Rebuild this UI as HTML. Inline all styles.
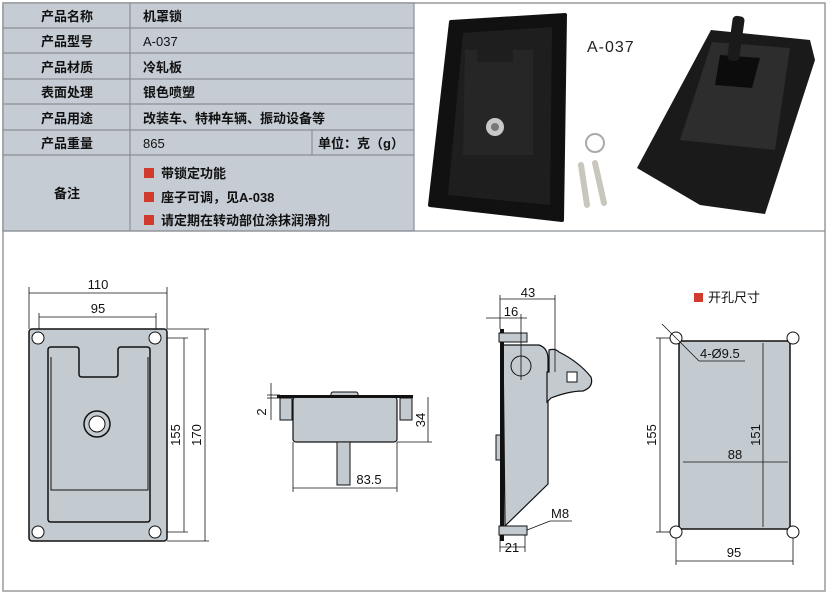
<!DOCTYPE html>
<html><head><meta charset="utf-8"><style>
body{margin:0;background:#fff;width:828px;height:593px;overflow:hidden;font-family:"Liberation Sans","Noto Sans CJK SC",sans-serif;}
svg{position:absolute;left:0;top:0}
</style></head><body>
<svg width="828" height="593" viewBox="0 0 828 593" font-family="Liberation Sans, Noto Sans CJK SC, sans-serif">
<rect x="3" y="3" width="822" height="588" fill="#fff" stroke="#9a9a9a" stroke-width="1.5"/>
<!-- table -->
<rect x="3" y="3" width="411" height="228" fill="#c5ccd4"/>
<g stroke="#8a8f95" stroke-width="1.2" fill="none">
<rect x="3" y="3" width="411" height="228"/>
<line x1="3" y1="28" x2="414" y2="28"/><line x1="3" y1="53" x2="414" y2="53"/>
<line x1="3" y1="79" x2="414" y2="79"/><line x1="3" y1="104" x2="414" y2="104"/>
<line x1="3" y1="130" x2="414" y2="130"/><line x1="3" y1="155" x2="414" y2="155"/>
<line x1="130" y1="3" x2="130" y2="231"/><line x1="312" y1="130" x2="312" y2="155"/>
<line x1="3" y1="231" x2="825" y2="231"/>
</g>
<g font-size="13" fill="#111">
<g font-weight="bold" text-anchor="middle">
<text x="67" y="21">产品名称</text><text x="67" y="46">产品型号</text><text x="67" y="72">产品材质</text>
<text x="67" y="97">表面处理</text><text x="67" y="123">产品用途</text><text x="67" y="148">产品重量</text>
<text x="67" y="198">备注</text></g>
<text x="143" y="21" font-weight="bold">机罩锁</text><text x="143" y="46">A-037</text>
<text x="143" y="72" font-weight="bold">冷轧板</text><text x="143" y="97" font-weight="bold">银色喷塑</text>
<text x="143" y="123" font-weight="bold">改装车、特种车辆、振动设备等</text><text x="143" y="148">865</text>
<text x="318" y="148" font-weight="bold">单位：克（g）</text>
<text x="161" y="178" font-weight="bold">带锁定功能</text>
<text x="161" y="202" font-weight="bold">座子可调，见A-038</text>
<text x="161" y="225" font-weight="bold">请定期在转动部位涂抹润滑剂</text>
</g>
<g fill="#d23a2e"><rect x="144" y="168" width="10" height="10"/><rect x="144" y="192" width="10" height="10"/><rect x="144" y="215" width="10" height="10"/></g>
<!-- photos -->
<line x1="414" y1="3" x2="414" y2="231" stroke="#8a8f95"/>
<path d="M451 22 L565 15 L562 220 L430 205 Z" fill="#111" stroke="#111" stroke-width="4" stroke-linejoin="round"/>
<path d="M463 33 L552 27 L550 205 L448 195 Z" fill="#1e1e1e"/>
<path d="M465 50 h12 v12 h36 v-12 h20 v105 h-70z" fill="#262626"/>
<circle cx="495" cy="127" r="9" fill="#c8c8c8"/><circle cx="495" cy="127" r="4" fill="#777"/>
<text x="587" y="52" font-size="16" fill="#222" letter-spacing="1">A-037</text>
<path d="M711 30 L810 40 L815 60 L765 214 L700 205 L637 168 Z" fill="#1a1a1a"/>
<path d="M712 42 L790 48 L775 150 L680 140 Z" fill="#2d2d2d"/>
<path d="M720 55 L760 58 L752 88 L715 85 Z" fill="#0c0c0c"/>
<rect x="730" y="16" width="12" height="45" rx="4" fill="#1a1a1a" transform="rotate(8 736 38)"/>
<circle cx="595" cy="143" r="9" fill="none" stroke="#aaa" stroke-width="2"/>
<path d="M581 165 l6 40 M595 163 l9 40" stroke="#c8c6bd" stroke-width="6" stroke-linecap="round"/>
<!-- drawing 1 -->
<g stroke="#111" fill="none" stroke-width="0.8">
<line x1="29" y1="293" x2="167" y2="293"/><line x1="29" y1="287" x2="29" y2="329"/><line x1="167" y1="287" x2="167" y2="329"/>
<line x1="39" y1="317" x2="156" y2="317"/><line x1="39" y1="313" x2="39" y2="338"/><line x1="156" y1="313" x2="156" y2="338"/>
<line x1="184" y1="338" x2="184" y2="532"/><line x1="160" y1="338" x2="188" y2="338"/><line x1="160" y1="532" x2="188" y2="532"/>
<line x1="205" y1="329" x2="205" y2="541"/><line x1="167" y1="329" x2="209" y2="329"/><line x1="167" y1="541" x2="209" y2="541"/>
</g>
<g font-size="13" fill="#111"><text x="98" y="289" text-anchor="middle">110</text><text x="98" y="313" text-anchor="middle">95</text>
<text transform="translate(180 435) rotate(-90)" text-anchor="middle">155</text><text transform="translate(201 435) rotate(-90)" text-anchor="middle">170</text></g>
<rect x="29" y="329" width="138" height="212" rx="3" fill="#c3cbd1" stroke="#111" stroke-width="1.5"/>
<path d="M48 350 q0-3 3-3 h25 q3 0 3 3 v24 q0 3 3 3 h33 q3 0 3-3 v-24 q0-3 3-3 h26 q3 0 3 3 v169 q0 3-3 3 h-96 q-3 0-3-3z" fill="#c3cbd1" stroke="#111" stroke-width="1.5"/>
<path d="M51 357 v133 h97 v-133 M51 490 h97" fill="none" stroke="#111" stroke-width="1"/>
<g fill="#fff" stroke="#111" stroke-width="1"><circle cx="38" cy="338" r="6"/><circle cx="155" cy="338" r="6"/><circle cx="38" cy="532" r="6"/><circle cx="155" cy="532" r="6"/>
<circle cx="97" cy="424" r="13" fill="#c3cbd1" stroke-width="1.5"/><circle cx="97" cy="424" r="8"/></g>
<!-- drawing 2 -->
<rect x="293" y="397" width="104" height="45" rx="3" fill="#c3cbd1" stroke="#111" stroke-width="1.2"/>
<rect x="337" y="442" width="13" height="43" fill="#c3cbd1" stroke="#111"/>
<rect x="331" y="392" width="27" height="5" rx="2" fill="#c3cbd1" stroke="#111"/>
<rect x="277" y="395" width="136" height="3" fill="#111"/>
<rect x="280" y="398" width="12" height="22" fill="#c3cbd1" stroke="#111"/><rect x="400" y="398" width="12" height="22" fill="#c3cbd1" stroke="#111"/>
<g stroke="#111" stroke-width="0.8" fill="none">
<line x1="293" y1="442" x2="293" y2="492"/><line x1="397" y1="442" x2="397" y2="492"/><line x1="293" y1="488" x2="397" y2="488"/>
<line x1="271" y1="383" x2="271" y2="420"/><line x1="267" y1="395" x2="280" y2="395"/><line x1="267" y1="398" x2="280" y2="398"/>
<line x1="428" y1="397" x2="428" y2="442"/><line x1="397" y1="442" x2="432" y2="442"/>
</g>
<g font-size="13" fill="#111"><text x="369" y="484" text-anchor="middle">83.5</text>
<text transform="translate(266 412) rotate(-90)" text-anchor="middle">2</text>
<text transform="translate(425 420) rotate(-90)" text-anchor="middle">34</text></g>
<!-- drawing 3 -->
<path d="M503 345 h36 q9 3 9 14 v125 l-43 42z" fill="#c3cbd1" stroke="#111" stroke-width="1.2"/>
<path d="M547 372 h2 v-22 q6 -2 10 2 q20 10 32 25 q3 10 -8 14 q-14 0 -32 7 l-4 4z" fill="#c3cbd1" stroke="#111" stroke-width="1.2"/>
<rect x="567" y="372" width="10" height="10" fill="#fff" stroke="#111"/>
<circle cx="521" cy="366" r="10" fill="none" stroke="#111"/>
<rect x="496" y="435" width="6" height="25" fill="#c3cbd1" stroke="#111"/>
<rect x="500" y="329" width="4" height="212" fill="#111"/>
<rect x="499" y="333" width="28" height="9" fill="#c3cbd1" stroke="#111"/><rect x="499" y="526" width="28" height="9" fill="#c3cbd1" stroke="#111"/>
<g stroke="#111" stroke-width="0.8" fill="none">
<line x1="500" y1="299" x2="555" y2="299"/><line x1="500" y1="295" x2="500" y2="329"/><line x1="555" y1="295" x2="555" y2="372"/>
<line x1="486" y1="318" x2="527" y2="318"/><line x1="521" y1="314" x2="521" y2="380"/>
<line x1="500" y1="547" x2="525" y2="547"/><line x1="500" y1="535" x2="500" y2="552"/><line x1="525" y1="535" x2="525" y2="552"/>
<line x1="527" y1="530" x2="550" y2="521"/><line x1="550" y1="521" x2="572" y2="521"/>
</g>
<g font-size="13" fill="#111"><text x="528" y="297" text-anchor="middle">43</text><text x="511" y="316" text-anchor="middle">16</text>
<text x="512" y="552" text-anchor="middle">21</text><text x="551" y="518">M8</text></g>
<!-- drawing 4 -->
<rect x="694" y="293" width="9" height="9" fill="#d23a2e"/>
<text x="708" y="302" font-size="13" fill="#111">开孔尺寸</text>
<rect x="679" y="341" width="111" height="188" rx="3" fill="#c3cbd1" stroke="#111" stroke-width="1.5"/>
<g fill="#fff" stroke="#111" stroke-width="1"><circle cx="676" cy="338" r="6"/><circle cx="793" cy="338" r="6"/><circle cx="676" cy="532" r="6"/><circle cx="793" cy="532" r="6"/></g>
<g stroke="#111" stroke-width="0.8" fill="none">
<line x1="660" y1="338" x2="660" y2="532"/><line x1="656" y1="338" x2="670" y2="338"/><line x1="656" y1="532" x2="670" y2="532"/>
<line x1="676" y1="538" x2="676" y2="565"/><line x1="793" y1="538" x2="793" y2="565"/><line x1="676" y1="561" x2="793" y2="561"/>
<line x1="683" y1="462" x2="788" y2="462"/><line x1="763" y1="343" x2="763" y2="527"/>
<line x1="662" y1="324" x2="699" y2="361"/><line x1="699" y1="361" x2="745" y2="361"/>
</g>
<g font-size="13" fill="#111"><text x="700" y="358">4-Ø9.5</text><text x="735" y="459" text-anchor="middle">88</text>
<text x="734" y="557" text-anchor="middle">95</text>
<text transform="translate(656 435) rotate(-90)" text-anchor="middle">155</text>
<text transform="translate(760 435) rotate(-90)" text-anchor="middle">151</text></g>
</svg>
</body></html>
